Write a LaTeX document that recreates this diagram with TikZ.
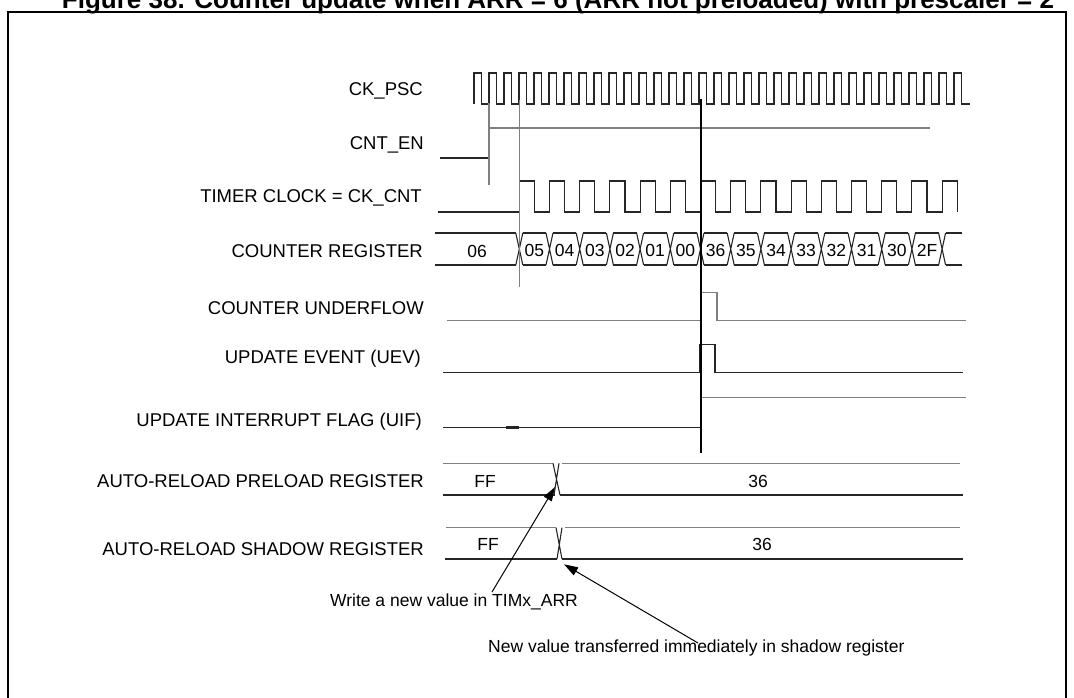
\documentclass[tikz,border=0pt]{standalone}
\usepackage{fontspec}
\setmainfont{Liberation Sans}
\usetikzlibrary{arrows.meta}
\begin{document}
\begin{tikzpicture}[x=1pt,y=-1pt,
  lbl/.style={anchor=east, inner sep=0pt, font=\fontsize{18.5}{20}\selectfont},
  val/.style={inner sep=0pt, font=\fontsize{17.5}{20}\selectfont},
  note/.style={inner sep=0pt, font=\fontsize{17.5}{20}\selectfont},
  sig/.style={line width=1.1pt, black!85},
  gsig/.style={line width=1.3pt, black!50},
  vline/.style={line width=1.2pt, black!80},
  ann/.style={line width=1pt, black, -{Triangle[length=14pt,width=9pt]}},
]
\useasboundingbox (0,0) rectangle (1074,697);
% title (partly cut off at the top)
\node[anchor=base, inner sep=0pt, font=\fontsize{26}{28}\selectfont\bfseries] (title) at (558,8)
  {Figure 38. Counter update when ARR = 6 (ARR not preloaded) with prescaler = 2};
% frame
\draw[line width=2pt] (8,700) -- (8,12) -- (1066,12) -- (1066,700);

% labels
\node[lbl] (l1) at (423,91) {CK\_PSC};
\node[lbl] (l2) at (424,145) {CNT\_EN};
\node[lbl] (l3) at (422,198) {TIMER CLOCK = CK\_CNT};
\node[lbl] (l4) at (423,251) {COUNTER REGISTER};
\node[lbl] (l5) at (424,308) {COUNTER UNDERFLOW};
\node[lbl] (l6) at (421,359) {UPDATE EVENT (UEV)};
\node[lbl] (l7) at (422,422) {UPDATE INTERRUPT FLAG (UIF)};
\node[lbl] (l8) at (424,481) {AUTO-RELOAD PRELOAD REGISTER};
\node[lbl] (l9) at (424,549) {AUTO-RELOAD SHADOW REGISTER};

% CK_PSC
\draw[sig] (474,104) \foreach \k in {0,...,32}{ -- ({474+15*\k},104) -- ({474+15*\k},73) -- ({481.5+15*\k},73) -- ({481.5+15*\k},104) } -- (970,104);

% CNT_EN
\draw[sig] (440,158) -- (489,158);
\draw[gsig] (489,128) -- (930,128);

% TIMER CLOCK
\draw[sig] (438,212) \foreach \k in {0,...,14}{ -- ({519.3+30.2*\k},212) -- ({519.3+30.2*\k},181) -- ({534.4+30.2*\k},181) -- ({534.4+30.2*\k},212) };

% COUNTER REGISTER
\draw[sig] (435,233) -- (515.8,233) (435,265) -- (515.8,265);
\foreach \k in {0,...,14}{
  \draw[sig] ({515.8+30.2*\k},233) -- ({522.8+30.2*\k},265)
             ({515.8+30.2*\k},265) -- ({522.8+30.2*\k},233);
}
\foreach \k in {0,...,13}{
  \draw[sig] ({522.8+30.2*\k},233) -- ({546+30.2*\k},233)
             ({522.8+30.2*\k},265) -- ({546+30.2*\k},265);
}
\draw[sig] (945.6,233) -- (962,233) (945.6,265) -- (962,265);
\node[val] (c06) at (477,251) {06};
\foreach \v [count=\i from 0] in {05,04,03,02,01,00,36,35,34,33,32,31,30,2F}{
  \node[val] (c\i) at ({534.4+30.2*\i},250) {\v};
}

% COUNTER UNDERFLOW
\draw[gsig] (447,320.7) -- (701,320.7) -- (701,292.7) -- (717,292.7) -- (717,320.7) -- (966,320.7);
% UEV
\draw[sig] (443,372.3) -- (699.5,372.3) -- (699.5,344.3) -- (715,344.3) -- (715,372.3) -- (963,372.3);
% UIF
\draw[sig] (443,427.3) -- (701,427.3);
\draw[line width=2.5pt, black!85] (506,427.3) -- (519,427.3);
\draw[gsig] (701,397.7) -- (966,397.7);

% vertical markers
\draw[gsig] (489,103) -- (489,185);
\draw[gsig] (519.3,100) -- (519.3,287);
\draw[line width=1.6pt, black] (701,99) -- (701,453);

% ARR preload
\draw[gsig] (443,463.3) -- (553,463.3) (562,463.3) -- (960,463.3);
\draw[sig] (443,495) -- (555,495) (560,495) -- (963,495);
\draw[sig] (553,463.3) -- (560,495) (559,463.3) -- (554,495);
\node[val] (pff) at (485,481.7) {FF};
\node[val] (p36) at (758,481) {36};
% ARR shadow
\draw[gsig] (446,527.7) -- (556,527.7) (565,527.7) -- (960,527.7);
\draw[sig] (445,559) -- (557,559) (562,559) -- (963,559);
\draw[sig] (556,527.7) -- (562,559) (562,527.7) -- (557,559);
\node[val] (sff) at (488,544) {FF};
\node[val] (s36) at (762,544) {36};

% annotations
\node[note, anchor=east] (w) at (578,602) {Write a new value in TIMx\_ARR};
\node[note, anchor=west] (n) at (488,648) {New value transferred immediately in shadow register};
\coordinate (w1) at (492,592);
\coordinate (t1) at (555,487);
\coordinate (n1) at (698,643);
\coordinate (t2) at (564,564.3);
\draw[ann] (w1) -- (t1);
\draw[ann] (n1) -- (t2);
\end{tikzpicture}
\end{document}
